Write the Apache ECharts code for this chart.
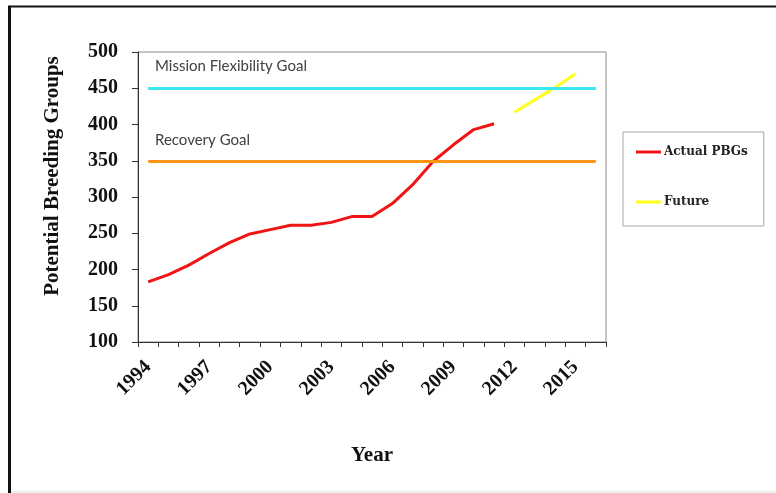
<!DOCTYPE html>
<html>
<head>
<meta charset="utf-8">
<script src="https://cdn.jsdelivr.net/npm/echarts@6/dist/echarts.min.js"></script>
<style>
html,body{margin:0;padding:0;background:#fff;}
#chart{width:776px;height:493px;}
</style>
</head>
<body>
<div id="chart"></div>
<script>
const years = ['1994','1995','1996','1997','1998','1999','2000','2001','2002','2003','2004','2005','2006','2007','2008','2009','2010','2011','2012','2013','2014','2015','2016'];
const actualPBGs = [183, 193, 206, 222, 237, 249, 255, 261, 261, 265, 273, 273, 291, 317, 349, 372, 393, 401, null, null, null, null, null];
const future = [null, null, null, null, null, null, null, null, null, null, null, null, null, null, null, null, null, null, 417, 434, 451, 470, null];
const missionGoal = 450;
const recoveryGoal = 350;
const yTicks = [100, 150, 200, 250, 300, 350, 400, 450, 500];

const chart = echarts.init(document.getElementById('chart'));
const serif = '"Liberation Serif", "Times New Roman", serif';
chart.setOption({
  animation: false,
  backgroundColor: '#fff',
  grid: { left: 138, top: 52, right: 170, bottom: 151, show: true, borderColor: '#8a8a8a', borderWidth: 1 },
  legend: {
    orient: 'vertical',
    left: 623, top: 132,
    padding: [14, 16, 18, 13],
    itemGap: 38,
    itemWidth: 25, itemHeight: 3,
    icon: 'rect',
    borderColor: '#a8a8a8', borderWidth: 1,
    backgroundColor: '#fff',
    textStyle: { fontFamily: '"DejaVu Serif", serif', fontWeight: 'bold', fontSize: 12, color: '#222', padding: [0,0,0,-2] },
    data: ['Actual PBGs', 'Future']
  },
  xAxis: {
    type: 'category',
    data: years,
    boundaryGap: true,
    axisLine: { lineStyle: { color: '#333', width: 1 } },
    axisTick: { show: true, length: 5, lineStyle: { color: '#333' }, interval: 0 },
    axisLabel: { interval: 2, rotate: 45, margin: 22, fontFamily: serif, fontWeight: 'bold', fontSize: 20, color: '#111' },
    name: 'Year', nameLocation: 'middle', nameGap: 103,
    nameTextStyle: { fontFamily: serif, fontWeight: 'bold', fontSize: 21, color: '#111' },
    splitLine: { show: false }
  },
  yAxis: {
    type: 'value', min: yTicks[0], max: yTicks[yTicks.length-1], interval: 50,
    axisLine: { show: true, lineStyle: { color: '#333', width: 1 } },
    axisTick: { show: true, length: 6, lineStyle: { color: '#333' } },
    axisLabel: { margin: 20, fontFamily: serif, fontWeight: 'bold', fontSize: 20, color: '#111' },
    splitLine: { show: false }
  },
  graphic: [
    { type: 'line', shape: { x1: 9.5, y1: 6, x2: 9.5, y2: 493 }, style: { stroke: '#111', lineWidth: 3 } },
    { type: 'line', shape: { x1: 8, y1: 6.5, x2: 776, y2: 6.5 }, style: { stroke: '#111', lineWidth: 2 } },
    { type: 'line', shape: { x1: 11, y1: 492, x2: 776, y2: 492 }, style: { stroke: '#ddd', lineWidth: 1 } },
    { type: 'text', x: 53, y: 176, rotation: Math.PI/2,
      style: { text: 'Potential Breeding Groups', font: 'bold 21px "Liberation Serif", serif', fill: '#111', textAlign: 'center', textVerticalAlign: 'middle' } },
    { type: 'text', x: 155, y: 66,
      style: { text: 'Mission Flexibility Goal', font: '15px Lato, "Open Sans", sans-serif', fill: '#404040', textAlign: 'left', textVerticalAlign: 'middle' } },
    { type: 'text', x: 155, y: 140,
      style: { text: 'Recovery Goal', font: '15px Lato, "Open Sans", sans-serif', fill: '#404040', textAlign: 'left', textVerticalAlign: 'middle' } }
  ],
  series: [
    {
      name: 'Mission Goal', type: 'line', data: [], silent: true,
      markLine: { silent: true, symbol: 'none', label: { show: false },
        lineStyle: { color: '#3CE8F0', width: 3, type: 'solid' },
        data: [[{ xAxis: years[0], yAxis: missionGoal }, { xAxis: years[years.length-1], yAxis: missionGoal }]] }
    },
    {
      name: 'Recovery Goal', type: 'line', data: [], silent: true,
      markLine: { silent: true, symbol: 'none', label: { show: false },
        lineStyle: { color: '#FF9414', width: 3, type: 'solid' },
        data: [[{ xAxis: years[0], yAxis: recoveryGoal }, { xAxis: years[years.length-1], yAxis: recoveryGoal }]] }
    },
    {
      name: 'Actual PBGs', type: 'line', data: actualPBGs, showSymbol: false, symbol: 'none',
      lineStyle: { color: '#F01414', width: 3 }, itemStyle: { color: '#F01414' }
    },
    {
      name: 'Future', type: 'line', data: future, showSymbol: false, symbol: 'none',
      lineStyle: { color: '#FFFF1E', width: 3 }, itemStyle: { color: '#FFFF1E' }
    }
  ]
});
</script>
</body>
</html>
